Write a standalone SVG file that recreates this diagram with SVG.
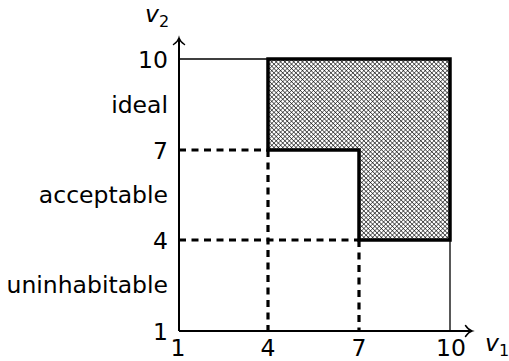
<svg xmlns="http://www.w3.org/2000/svg" width="509" height="361" viewBox="0 0 509 361">
<style>
text{font-family:"DejaVu Sans","Liberation Sans",sans-serif;font-size:23.5px;fill:#000}
.yl{text-anchor:end}
.xl{text-anchor:middle}
.var{font-style:italic}
.sub{font-size:16px;font-style:normal}
.axis{stroke:#000;stroke-width:2;fill:none}
.thin{stroke:#000;stroke-width:1.3;fill:none}
.dash{stroke:#000;stroke-width:3.2;stroke-dasharray:7 5.5;fill:none}
.region{stroke:#000;stroke-width:3.5;fill:url(#hatch);stroke-linejoin:miter}
</style>
<defs>
<pattern id="hatch" patternUnits="userSpaceOnUse" width="3.1" height="3.1" patternTransform="rotate(45)">
<rect width="3.1" height="3.1" fill="#fff"/>
<path d="M0,0 H3.1 M0,0 V3.1" stroke="#000" stroke-width="1"/>
</pattern>
<marker id="arr" markerUnits="userSpaceOnUse" markerWidth="12" markerHeight="14" refX="9" refY="7" orient="auto" viewBox="0 0 12 14">
<path d="M2.5,1.5 C4.5,4.5 6.5,6.3 9,7 C6.5,7.7 4.5,9.5 2.5,12.5" fill="none" stroke="#000" stroke-width="1.5" stroke-linecap="round"/>
</marker>
</defs>
<g id="frame">
<path class="thin" d="M179,59 H450 V331"/>
</g>
<g id="region">
<path class="region" d="M268,59 H450 V240 H359 V150 H268 Z"/>
</g>
<g id="connectors">
<path class="dash" d="M179,150 H268"/>
<path class="dash" d="M179,240 H359"/>
<path class="dash" d="M268,150 V331"/>
<path class="dash" d="M359,240 V331"/>
</g>
<g id="axes">
<path class="axis" d="M179,331 H472" marker-end="url(#arr)"/>
<path class="axis" d="M179,331 V38" marker-end="url(#arr)"/>
</g>
<g id="y-labels">
<text class="yl" x="168" y="68">10</text>
<text class="yl" x="168" y="113">ideal</text>
<text class="yl" x="168" y="159">7</text>
<text class="yl" x="168" y="203">acceptable</text>
<text class="yl" x="168" y="249">4</text>
<text class="yl" x="168" y="293">uninhabitable</text>
<text class="yl" x="168" y="340">1</text>
</g>
<g id="x-labels">
<text class="xl" x="178" y="356">1</text>
<text class="xl" x="268" y="356">4</text>
<text class="xl" x="359" y="356">7</text>
<text class="xl" x="451" y="356">10</text>
</g>
<g id="axis-names">
<text x="485" y="351"><tspan class="var">v</tspan><tspan class="sub" dy="5">1</tspan></text>
<text x="145" y="22"><tspan class="var">v</tspan><tspan class="sub" dy="5">2</tspan></text>
</g>
</svg>
